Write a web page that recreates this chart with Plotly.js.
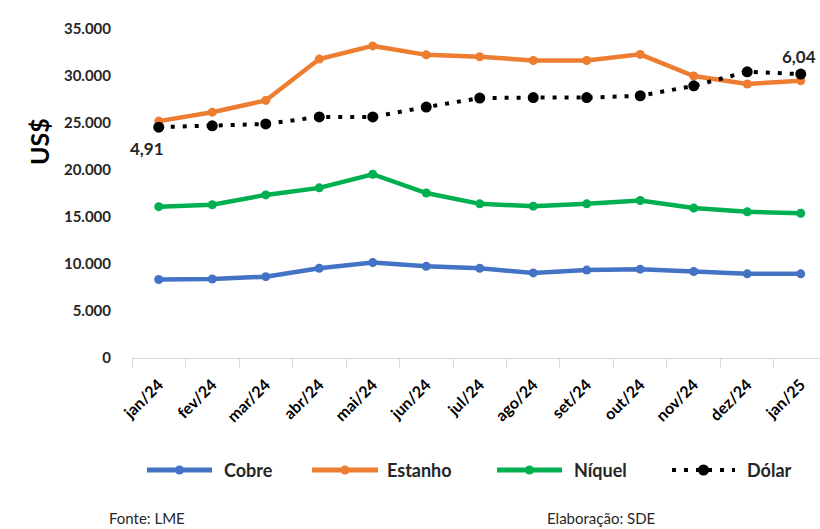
<!DOCTYPE html>
<html>
<head>
<meta charset="utf-8">
<script src="https://cdn.plot.ly/plotly-3.0.1.min.js"></script>
<style>html,body{margin:0;padding:0;background:#fff;}#chart{width:820px;height:529px;}</style>
</head>
<body>
<div id="chart"></div>
<script>
const months = ["jan/24","fev/24","mar/24","abr/24","mai/24","jun/24","jul/24","ago/24","set/24","out/24","nov/24","dez/24","jan/25"];
const cobre   = [8350, 8400, 8650, 9550, 10150, 9750, 9550, 9050, 9350, 9450, 9200, 8950, 8950];
const estanho = [25200, 26150, 27400, 31800, 33200, 32250, 32050, 31650, 31650, 32300, 30000, 29150, 29500];
const niquel  = [16100, 16300, 17350, 18100, 19550, 17550, 16400, 16150, 16400, 16750, 15950, 15550, 15400];
const dolar   = [4.91, 4.94, 4.98, 5.13, 5.13, 5.34, 5.53, 5.54, 5.54, 5.58, 5.79, 6.09, 6.04];
const yTicks  = [0, 5000, 10000, 15000, 20000, 25000, 30000, 35000];
const seriesNames  = ["Cobre", "Estanho", "Níquel", "Dólar"];
const seriesColors = ["#4472C4", "#ED7D31", "#00B050", "#000000"];

const FONT = "Lato, 'Open Sans', sans-serif";
const W = 820, H = 529, ML = 132, MR = 0, MT = 29, MB = 171;
const PW = W - ML - MR, PH = H - MT - MB;
const px = v => (v - ML) / PW;          // pixel -> paper x
const py = v => (H - MB - v) / PH;      // pixel -> paper y

const seriesY = [cobre, estanho, niquel, dolar];
const traces = seriesNames.map((n, i) => {
  const t = {name:n, x:months, y:seriesY[i], type:"scatter", mode:"lines+markers",
    line:{color:seriesColors[i], width:4.5}, marker:{color:seriesColors[i], size:9}};
  if (i === 3) {
    t.yaxis = "y2";
    t.line = {color:"#000", width:4, dash:"4px,8px"};
    t.marker = {color:"#000", size:11};
  }
  return t;
});

// custom legend placement (pixels)
const legendY = 470;
const legendPos = [[147, 212, 222], [312, 378, 385], [497, 562, 572], [672, 735, 745]];
const shapes = [];
const legendAnn = [];
legendPos.forEach((p, i) => {
  shapes.push({type:"line", xref:"paper", yref:"paper", x0:px(p[0]), x1:px(p[1]), y0:py(legendY), y1:py(legendY),
    line:{color:seriesColors[i], width: i === 3 ? 4 : 5, dash: i === 3 ? "4px,8px" : "solid"}});
  const cx = (p[0] + p[1]) / 2, r = i === 3 ? 5.5 : 4.5;
  shapes.push({type:"circle", xref:"paper", yref:"paper",
    x0:px(cx - r), x1:px(cx + r), y0:py(legendY + r), y1:py(legendY - r),
    fillcolor:seriesColors[i], line:{color:seriesColors[i], width:0}});
  legendAnn.push({text:seriesNames[i], xref:"paper", yref:"paper", x:px(p[2]), y:py(legendY),
    xanchor:"left", yanchor:"middle", showarrow:false,
    font:{family:FONT, size:18, color:"#262626", weight:"bold"}});
});

const layout = {
  width:W, height:H,
  margin:{l:ML, r:MR, t:MT, b:MB},
  paper_bgcolor:"#fff", plot_bgcolor:"#fff",
  separators:",.",
  showlegend:false,
  font:{family:FONT, color:"#262626"},
  xaxis:{
    type:"category", range:[-0.5, 12.36],
    showgrid:false, zeroline:false,
    showline:true, linecolor:"#d9d9d9", linewidth:1,
    ticks:"outside", tickson:"boundaries", ticklen:9, tickcolor:"#d9d9d9",
    tickangle:-45, ticklabelstandoff:10,
    tickfont:{family:FONT, size:16, color:"#000", weight:"bold"}
  },
  yaxis:{
    range:[0, 35000], tickvals:yTicks, tickformat:",d",
    showgrid:false, zeroline:false, showline:false, ticks:"",
    ticklabelstandoff:20,
    tickfont:{family:FONT, size:15, color:"#262626", weight:"bold"}
  },
  yaxis2:{range:[0,7], overlaying:"y", side:"right", visible:false},
  shapes:shapes,
  annotations:[
    {text:"US$", xref:"paper", yref:"paper", x:px(22), y:py(142), textangle:-90,
     showarrow:false, font:{family:FONT, size:25, color:"#000", weight:"bold"}},
    {text:"4,91", xref:"x", yref:"y2", x:0, y:dolar[0], xshift:-12, yshift:-21,
     showarrow:false, font:{family:FONT, size:17, color:"#262626", weight:"bold"}},
    {text:"6,04", xref:"x", yref:"y2", x:12, y:dolar[12], xanchor:"right", xshift:17, yshift:18,
     showarrow:false, font:{family:FONT, size:17, color:"#262626", weight:"bold"}},
    {text:"Fonte: LME", xref:"paper", yref:"paper", x:px(107), y:py(518), xanchor:"left", yanchor:"middle",
     showarrow:false, font:{family:FONT, size:15, color:"#262626"}},
    {text:"Elaboração: SDE", xref:"paper", yref:"paper", x:px(545), y:py(518), xanchor:"left", yanchor:"middle",
     showarrow:false, font:{family:FONT, size:15, color:"#262626"}}
  ].concat(legendAnn)
};

Plotly.newPlot("chart", traces, layout, {displayModeBar:false, staticPlot:true});
</script>
</body>
</html>
